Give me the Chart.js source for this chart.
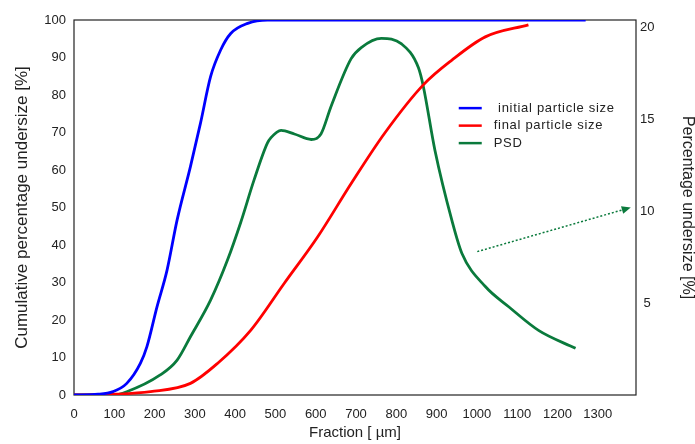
<!DOCTYPE html>
<html lang="en">
<head>
<meta charset="UTF-8">
<title>Particle size</title>
<style>
    html, body { margin: 0; padding: 0; background: #fff; }
    #wrap { width: 695px; height: 444px; }
</style>
</head>
<body>
<div id="wrap"><canvas id="myChart"></canvas></div>
<script src="https://cdn.jsdelivr.net/npm/chart.js@4.4.1/dist/chart.umd.min.js"></script>
<script>
    // tick labels
    const xTicks = [0, 100, 200, 300, 400, 500, 600, 700, 800, 900, 1000, 1100, 1200, 1300];
    const rightTicks = [5, 10, 15, 20];

    // initial particle size (cumulative, left axis)
    const initialX = [0, 60, 97, 131, 165, 181, 206, 231, 256, 289, 314, 339, 364, 389, 431, 480, 900, 1270];
    const initialY = [0, 0.2, 0.9, 3.1, 8.5, 12.9, 23.5, 33.3, 46.7, 60.9, 72.5, 84.9, 92, 96.4, 99.1, 100, 100, 100];

    // final particle size (cumulative, left axis)
    const finalX = [0, 100, 190, 289, 356, 439, 522, 605, 688, 771, 867, 938, 1021, 1128];
    const finalY = [0, 0.2, 0.9, 3.1, 8.4, 17.3, 29.8, 42.2, 56.4, 69.8, 82.7, 89.3, 95.5, 98.7];

    // PSD (right axis)
    const psdX = [0, 97, 131, 214, 256, 289, 339, 381, 414, 447, 480, 489, 514, 547, 589, 613, 638, 688, 713, 763, 813, 855, 867, 896, 938, 963, 1021, 1079, 1154, 1245];
    const psdY = [0, 0, 0.18, 1.09, 1.9, 3.17, 5.16, 7.34, 9.4, 11.7, 13.7, 14.0, 14.4, 14.2, 13.9, 14.2, 15.7, 18.3, 18.9, 19.4, 19.1, 17.8, 16.8, 13.3, 9.5, 7.7, 5.9, 4.8, 3.5, 2.54];

    // dotted arrow pointing to the right axis (x in µm, y in right-axis %)
    const arrowFrom = [1001, 7.8];
    const arrowTo = [1382, 10.2];

    const BLUE = '#0000ff';
    const RED = '#ff0000';
    const GREEN = '#0a7a3c';

    function pts(xs, ys) {
        return xs.map((x, i) => ({ x: x, y: ys[i] }));
    }

    // box round the plot area
    const frame = {
        id: 'frame',
        beforeDatasetsDraw(chart) {
            const a = chart.chartArea;
            const ctx = chart.ctx;
            ctx.save();
            ctx.strokeStyle = '#222';
            ctx.lineWidth = 1.2;
            ctx.strokeRect(a.left, a.top, a.right - a.left, a.bottom - a.top);
            ctx.restore();
        }
    };

    // legend inside the plot + arrow
    const extras = {
        id: 'extras',
        afterDatasetsDraw(chart) {
            const ctx = chart.ctx;
            const xs = chart.scales.x;
            const ys = chart.scales.y;
            const y1 = chart.scales.y1;

            // arrow
            const x0 = xs.getPixelForValue(arrowFrom[0]), yA = y1.getPixelForValue(arrowFrom[1]);
            const x1 = xs.getPixelForValue(arrowTo[0]), yB = y1.getPixelForValue(arrowTo[1]);
            const ang = Math.atan2(yB - yA, x1 - x0);
            ctx.save();
            ctx.strokeStyle = GREEN;
            ctx.fillStyle = GREEN;
            ctx.lineWidth = 1.5;
            ctx.setLineDash([2, 2]);
            ctx.beginPath();
            ctx.moveTo(x0, yA);
            ctx.lineTo(x1 - 7 * Math.cos(ang), yB - 7 * Math.sin(ang));
            ctx.stroke();
            ctx.setLineDash([]);
            ctx.beginPath();
            ctx.moveTo(x1, yB);
            ctx.lineTo(x1 - 9 * Math.cos(ang) + 4 * Math.sin(ang), yB - 9 * Math.sin(ang) - 4 * Math.cos(ang));
            ctx.lineTo(x1 - 9 * Math.cos(ang) - 4 * Math.sin(ang), yB - 9 * Math.sin(ang) + 4 * Math.cos(ang));
            ctx.closePath();
            ctx.fill();
            ctx.restore();

            // legend
            const lx = xs.getPixelForValue(955);
            let ly = ys.getPixelForValue(76.5);
            ctx.save();
            ctx.font = '13px "Liberation Sans", Arial, sans-serif';
            ctx.textBaseline = 'middle';
            ctx.fillStyle = '#222';
            if ('letterSpacing' in ctx) ctx.letterSpacing = '0.7px';
            chart.data.datasets.forEach((ds) => {
                ctx.strokeStyle = ds.borderColor;
                ctx.lineWidth = 2.5;
                ctx.beginPath();
                ctx.moveTo(lx, ly);
                ctx.lineTo(lx + 23, ly);
                ctx.stroke();
                ctx.fillText(ds.label, lx + 35, ly);
                ly += 17.5;
            });
            ctx.restore();
        }
    };

    const tickFont = { family: '"Liberation Sans", Arial, sans-serif', size: 13 };

    new Chart(document.getElementById('myChart'), {
        type: 'line',
        data: {
            datasets: [{
                label: ' initial particle size',
                data: pts(initialX, initialY),
                borderColor: BLUE,
                yAxisID: 'y'
            }, {
                label: 'final particle size',
                data: pts(finalX, finalY),
                borderColor: RED,
                yAxisID: 'y'
            }, {
                label: 'PSD',
                data: pts(psdX, psdY),
                borderColor: GREEN,
                yAxisID: 'y1'
            }]
        },
        options: {
            responsive: true,
            maintainAspectRatio: false,
            animation: false,
            layout: { padding: { top: 20, left: 0, right: 0, bottom: 0 } },
            elements: {
                point: { radius: 0 },
                line: { borderWidth: 2.8, cubicInterpolationMode: 'monotone', fill: false }
            },
            plugins: {
                legend: { display: false },
                tooltip: { enabled: false }
            },
            scales: {
                x: {
                    type: 'linear',
                    min: 0,
                    max: 1395,
                    afterBuildTicks: (s) => { s.ticks = xTicks.map(v => ({ value: v })); },
                    afterFit: (s) => { s.height = 49; },
                    grid: { display: false, drawTicks: false },
                    border: { display: false },
                    ticks: { color: '#222', font: tickFont, padding: 12, maxRotation: 0, autoSkip: false, callback: (v) => String(v) },
                    title: {
                        display: true,
                        text: 'Fraction [ µm]',
                        color: '#222',
                        font: { family: '"Liberation Sans", Arial, sans-serif', size: 15, lineHeight: 1 },
                        padding: { top: 0, bottom: 4 }
                    }
                },
                y: {
                    position: 'left',
                    min: 0,
                    max: 100,
                    ticks: { stepSize: 10, color: '#222', font: tickFont, padding: 8 },
                    afterFit: (s) => { s.width = 74; },
                    grid: { display: false, drawTicks: false },
                    border: { display: false },
                    title: {
                        display: true,
                        text: 'Cumulative percentage undersize [%]',
                        color: '#222',
                        font: { family: '"Liberation Sans", Arial, sans-serif', size: 17, lineHeight: 1 },
                        padding: { top: 14, bottom: 0 }
                    }
                },
                y1: {
                    position: 'right',
                    min: 0,
                    max: 20.4,
                    afterBuildTicks: (s) => { s.ticks = rightTicks.map(v => ({ value: v })); },
                    afterFit: (s) => { s.width = 59; },
                    ticks: { color: '#222', font: tickFont, padding: 4, crossAlign: 'center' },
                    grid: { display: false, drawTicks: false },
                    border: { display: false },
                    title: {
                        display: true,
                        text: 'Percentage undersize [%]',
                        color: '#222',
                        font: { family: '"Liberation Sans", Arial, sans-serif', size: 16, lineHeight: 1 },
                        padding: { top: 0, bottom: 0 }
                    }
                }
            }
        },
        plugins: [frame, extras]
    });
</script>
</body>
</html>
